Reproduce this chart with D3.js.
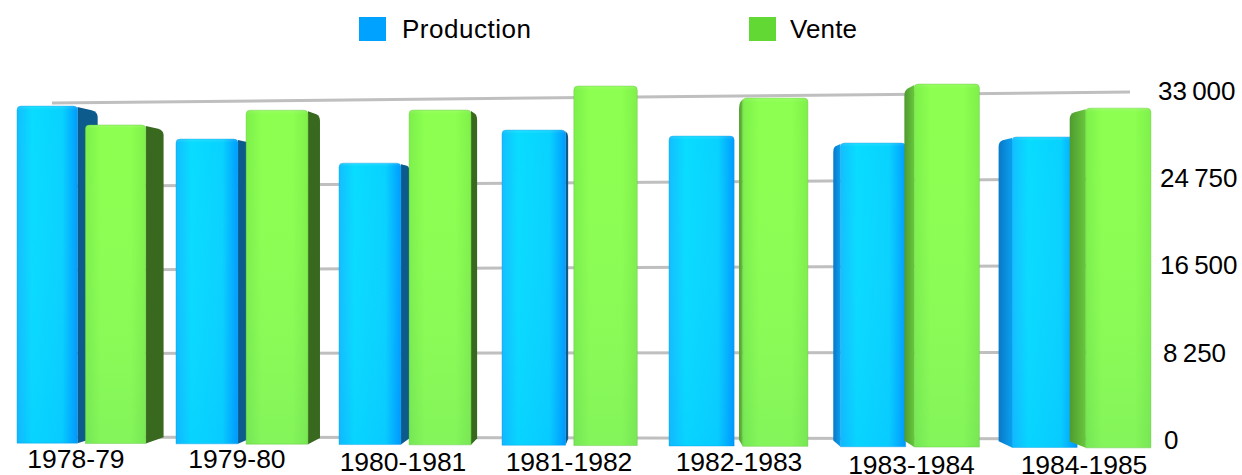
<!DOCTYPE html>
<html>
<head>
<meta charset="utf-8">
<script src="https://cdn.jsdelivr.net/npm/d3@7"></script>
<style>
  body { margin: 0; background: #fff; }
  text { font-family: "Liberation Sans", Arial, sans-serif; fill: #000; }
</style>
</head>
<body>
<svg id="chart" width="1242" height="475"></svg>
<script>
const categories = ['1978-79', '1979-80', '1980-1981', '1981-1982', '1982-1983', '1983-1984', '1984-1985'];
const production = [31690, 28500, 26170, 29150, 28500, 27770, 28230];
const vente = [29870, 31150, 31060, 33170, 31950, 33110, 30810];
const seriesNames = ['Production', 'Vente'];
const tickValues = [0, 8250, 16500, 24750, 33000];

const svg = d3.select('#chart');
const defs = svg.append('defs');

// --- fake 3D: the picture is a perspective view, right side nearer to the camera
const vanish = { x: 640, y: 270 };
const depth = 0.036;

const groupX = d3.scaleLinear().domain([0, 1, 3, 4, 6]).range([17, 176, 502, 669, 1012]);
const labelX = d3.scaleLinear().domain([0, 1, 3, 4, 6]).range([76, 237, 569, 739, 1084]);
const labelY = d3.scaleThreshold().domain([2, 5]).range([468, 471, 474]);

// front plane of the bars
const frontBase = d3.scaleLinear().domain([17, 1150]).range([443, 448]);
const frontFull = d3.scaleLinear().domain([50, 1128]).range([351, 364]);
// back wall with the grid
const backBase = d3.scaleLinear().domain([52, 1130]).range([437, 439]);
const backFull = d3.scaleLinear().domain([52, 1130]).range([334, 347]);
const value = d3.scaleLinear().domain([0, 33000]).range([0, 1]);
const axisY = d3.scaleLinear().domain([0, 33000]).range([440, 91]);

const barOffset = 0.43;
const barWidth = 0.38;
const colors = [
  { stops: ['#12beff', '#08dcff', '#08d2ff', '#009cff'], edge: '#0a9ee0', side: '#0d5a8c', sideNear: '#0878c8', sideNearEnd: '#0aa0ee', legend: '#00a2ff', id: 'blue' },
  { stops: ['#7cf04a', '#8cff50', '#8cff50', '#7ff04a'], edge: '#62c038', side: '#39691f', sideNear: '#4f9a30', sideNearEnd: '#68c83c', legend: '#62d835', id: 'green' }
];

colors.forEach(c => {
  const g = defs.append('linearGradient').attr('id', 'face-' + c.id);
  [0, 0.25, 0.75, 1].forEach((o, i) => g.append('stop').attr('offset', o).attr('stop-color', c.stops[i]));
  const n = defs.append('linearGradient').attr('id', 'near-' + c.id);
  n.append('stop').attr('offset', 0).attr('stop-color', c.sideNear);
  n.append('stop').attr('offset', 1).attr('stop-color', c.sideNearEnd);
});
const shade = defs.append('linearGradient').attr('id', 'shade').attr('x2', 0).attr('y2', 1);
shade.append('stop').attr('offset', 0).attr('stop-color', '#fff').attr('stop-opacity', 0.12);
shade.append('stop').attr('offset', 0.012).attr('stop-color', '#fff').attr('stop-opacity', 0);
shade.append('stop').attr('offset', 1).attr('stop-color', '#0050ff').attr('stop-opacity', 0.06);

// --- grid
const gridLine = d3.line();
svg.append('g').selectAll('path').data(tickValues).join('path')
  .attr('d', t => gridLine([52, 1130].map(x => [x, backBase(x) - backFull(x) * value(t)])))
  .attr('fill', 'none')
  .attr('stroke', '#bfbfbf')
  .attr('stroke-width', 3);

// --- bars
const bars = [];
categories.forEach((cat, i) => {
  [production[i], vente[i]].forEach((v, s) => {
    const x0 = groupX(i + s * barOffset);
    const x1 = groupX(i + s * barOffset + barWidth);
    const mid = (x0 + x1) / 2;
    const base = frontBase(mid);
    const top = base - frontFull(mid) * value(v);
    bars.push({ cat, s, x0, x1, base, top });
  });
});

function toBack(x, y) {
  return [x + (vanish.x - x) * depth, y + (vanish.y - y) * depth];
}

function frontPath(b) {
  const r = 4;
  return `M${b.x0},${b.base}L${b.x0},${b.top + r}Q${b.x0},${b.top} ${b.x0 + r},${b.top}` +
    `L${b.x1 - r},${b.top}Q${b.x1},${b.top} ${b.x1},${b.top + r}L${b.x1},${b.base}Z`;
}

const isLeftHalf = b => b.x1 < vanish.x;
const sideEdge = b => isLeftHalf(b) ? b.x1 : b.x0;

function sidePath(b) {
  // the side that the camera can see depends on where the bar is from the vanishing point
  const ex = sideEdge(b);
  const [bx, by] = toBack(ex, b.top);
  const [, baseY] = toBack(ex, b.base);
  const k = 0.7;
  const mx = ex + (bx - ex) * k;
  const my = b.top + (by - b.top) * k;
  return `M${ex},${b.top + 1}L${mx},${my}Q${bx},${by} ${bx},${by + 5}L${bx},${baseY}L${ex},${b.base}Z`;
}

const barG = svg.append('g').selectAll('g').data(bars).join('g');
barG.filter(b => Math.abs(vanish.x - sideEdge(b)) * depth > 1.5 && (b.x1 < vanish.x || b.x0 > vanish.x))
  .append('path')
  .attr('d', sidePath)
  .attr('fill', b => isLeftHalf(b) ? colors[b.s].side : `url(#near-${colors[b.s].id})`);
barG.append('path')
  .attr('d', frontPath)
  .attr('fill', b => `url(#face-${colors[b.s].id})`)
  .attr('stroke', b => colors[b.s].edge)
  .attr('stroke-opacity', 0.5)
  .attr('stroke-width', 0.8);
barG.append('path')
  .attr('d', frontPath)
  .attr('fill', 'url(#shade)');

// --- y axis on the right
const tickShift = d3.scaleOrdinal().domain(tickValues).range([4, 3, 0, 0, -2]);
const yAxis = d3.axisRight(axisY)
  .tickValues(tickValues)
  .tickSize(0)
  .tickPadding(0)
  .tickFormat(d => d3.format(',')(d).replace(',', '\u2009'));
const axisG = svg.append('g').attr('transform', 'translate(1160,0)').call(yAxis);
axisG.select('.domain').remove();
axisG.selectAll('text')
  .attr('font-size', 26)
  .attr('font-family', '"Liberation Sans", Arial, sans-serif')
  .attr('fill', '#000')
  .attr('x', d => tickShift(d));

// --- category labels
svg.append('g').selectAll('text').data(categories).join('text')
  .attr('x', (d, i) => labelX(i))
  .attr('y', (d, i) => labelY(i))
  .attr('text-anchor', 'middle')
  .attr('font-size', 26.5)
  .text(d => d);

// --- legend
const legendX = d3.scalePoint().domain(seriesNames).range([359, 749]);
const legend = svg.append('g').selectAll('g').data(seriesNames).join('g')
  .attr('transform', d => `translate(${legendX(d)},17)`);
legend.append('rect')
  .attr('width', 27)
  .attr('height', 24)
  .attr('fill', (d, i) => colors[i].legend);
legend.append('text')
  .attr('x', (d, i) => i === 0 ? 43 : 41)
  .attr('y', 21)
  .attr('font-size', 26)
  .attr('textLength', (d, i) => i === 0 ? 129 : 67)
  .text(d => d);
</script>
</body>
</html>
